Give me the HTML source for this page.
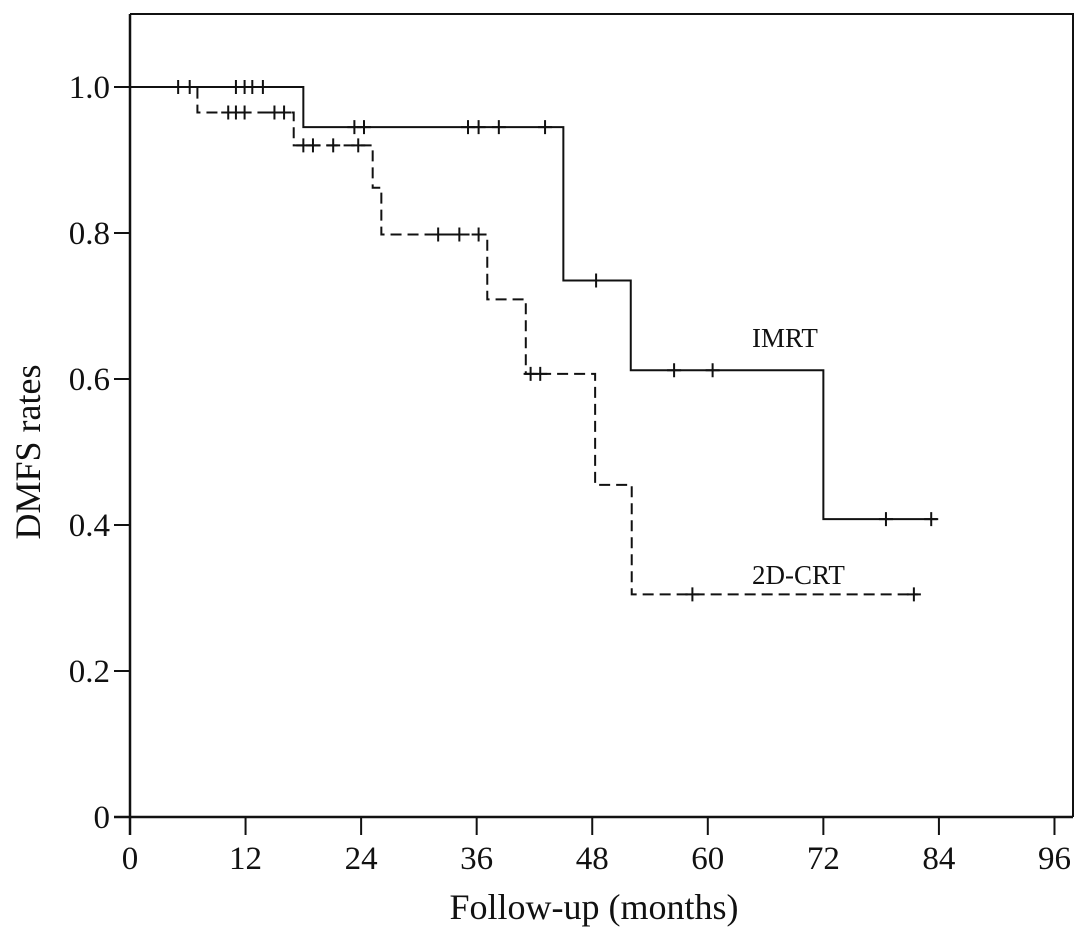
<!DOCTYPE html>
<html><head><meta charset="utf-8"><style>
body{margin:0;background:#fff}
svg text{font-family:"Liberation Serif",serif;fill:#111}
</style></head><body>
<svg id="c" width="1087" height="937" viewBox="0 0 1087 937"></svg>
<script>
const xTicks=[0,12,24,36,48,60,72,84,96];
const yTicks=[0,0.2,0.4,0.6,0.8,1.0];
const yTickLabels=["0","0.2","0.4","0.6","0.8","1.0"];
const imrtTimes=[0,18,45,52,72,83.8];
const imrtSurv=[1.0,0.945,0.735,0.612,0.408,0.408];
const imrtCensT=[5,6.2,11,11.9,12.7,13.8,23.3,24.3,35.1,36.2,38.3,43.1,48.4,56.5,60.5,78.5,83.2];
const crtTimes=[0,7,17,25.2,26.1,37.1,41.1,48.3,52.1,81.8];
const crtSurv=[1.0,0.965,0.92,0.862,0.798,0.709,0.607,0.455,0.305,0.305];
const crtCensT=[10.2,11,11.9,15,16,18,19,21.1,23.7,32,34.2,36.2,41.6,42.6,58.4,81.4];
const X=t=>130+t*9.63, Y=v=>817-v*730;
const svg=document.getElementById('c'),NS='http://www.w3.org/2000/svg';
function el(tag,a,p){const e=document.createElementNS(NS,tag);for(const k in a)e.setAttribute(k,a[k]);(p||svg).appendChild(e);return e;}
let f=el('path',{d:'M130 14H1073V817',fill:'none',stroke:'#111','stroke-width':2});

let xa=el('line',{x1:114,y1:817,x2:1073,y2:817,stroke:'#111','stroke-width':2.5});

let ya=el('line',{x1:130,y1:14,x2:130,y2:835,stroke:'#111','stroke-width':2.5});

xTicks.forEach(t=>{let l=el('line',{x1:X(t),y1:817,x2:X(t),y2:835,stroke:'#111','stroke-width':2});

let tx=el('text',{x:X(t),y:869,'text-anchor':'middle','font-size':33});tx.textContent=t;
});
yTicks.forEach((v,i)=>{let l=el('line',{x1:114,y1:Y(v),x2:130,y2:Y(v),stroke:'#111','stroke-width':2});

let tx=el('text',{x:110,y:Y(v)+11,'text-anchor':'end','font-size':33});tx.textContent=yTickLabels[i];
});
let xt=el('text',{x:594,y:919,'text-anchor':'middle','font-size':36});xt.textContent='Follow-up (months)';

let yt=el('text',{x:0,y:0,'text-anchor':'middle','font-size':36,transform:'translate(40,452) rotate(-90)'});yt.textContent='DMFS rates';

function stepVal(ts,ss,t){let v=ss[0];for(let i=0;i<ts.length;i++)if(ts[i]<=t)v=ss[i];return v;}
function series(ts,ss,cs,dash,name){
 let d='M'+X(ts[0])+' '+Y(ss[0]);
 for(let i=1;i<ts.length;i++){d+='H'+X(ts[i])+'V'+Y(ss[i]);}
 let p=el('path',{d,fill:'none',stroke:'#111','stroke-width':2,'stroke-dasharray':dash});
 
 cs.forEach(t=>{const x=X(t),y=Y(stepVal(ts,ss,t));
  let c=el('path',{d:`M${x-7} ${y}H${x+7}M${x} ${y-7}V${y+7}`,stroke:'#111','stroke-width':2});
  });
}
series(imrtTimes,imrtSurv,imrtCensT,'none','imrt');
series(crtTimes,crtSurv,crtCensT,'11 6','crt');
let l1=el('text',{x:752,y:347,'font-size':27});l1.textContent='IMRT';

let l2=el('text',{x:752,y:584,'font-size':27});l2.textContent='2D-CRT';

</script>
</body></html>
